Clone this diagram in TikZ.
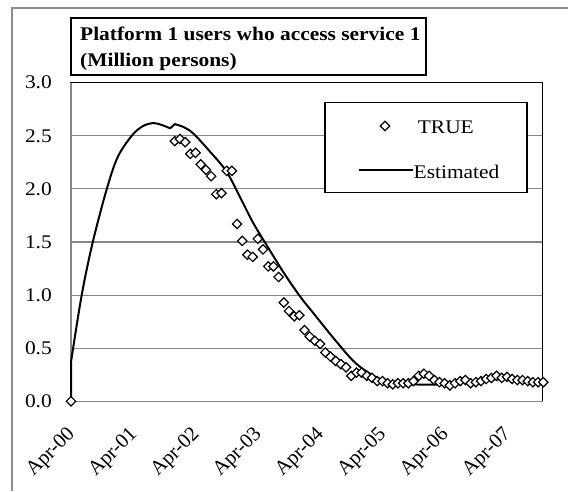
\documentclass[tikz,border=0pt]{standalone}
\usepackage{fontspec}
\setmainfont{Liberation Serif}[FakeStretch=1.11]
\newfontfamily\plainserif{Liberation Serif}
\definecolor{gridgray}{HTML}{868686}
\definecolor{framegray}{HTML}{8C8C8C}
\begin{document}
\begin{tikzpicture}[x=1pt,y=-1pt,
  gridline/.style={draw=gridgray, line width=1.1pt},
  axisline/.style={draw=gridgray, line width=1.5pt},
  boxstyle/.style={draw=black, line width=1.4pt, fill=white, inner sep=0pt},
  txt/.style={font=\fontsize{19.3}{23}\selectfont, inner sep=0pt},
  ttl/.style={font=\fontsize{19.3}{23}\selectfont\bfseries, inner sep=0pt, anchor=base west},
  ylab/.style={txt, anchor=east},
  xlab/.style={font=\plainserif\fontsize{20.6}{24}\selectfont, inner sep=0pt, rotate=45, anchor=base east},
  estline/.style={draw=black, line width=2pt, line join=round},
  diam/.style={draw=black, fill=white, line width=1.2pt, rotate=45, minimum size=6.6pt, inner sep=0pt}
]
\useasboundingbox (0,0) rectangle (568,491);
% outer chart frame (cropped)
\draw[framegray, line width=1.2pt] (12,491) -- (12,8) -- (568,8);
% gridlines
\foreach \v in {0.5,1.0,1.5,2.0,2.5}{
  \pgfmathsetmacro\yy{401.3-106.2*\v}
  \draw[gridline] (71,\yy) -- (542.5,\yy);
}
% plot area frame
\draw[black, line width=1.4pt] (71,82.7) rectangle (542.5,401.3);
\draw[axisline] (71,82.7) -- (71,401.3) -- (542.5,401.3);
% y labels
\foreach \v/\t in {0/0.0,0.5/0.5,1/1.0,1.5/1.5,2/2.0,2.5/2.5,3/3.0}{
  \pgfmathsetmacro\yy{401.3-106.2*\v}
  \node[ylab] (y\v) at (52,\yy) {\t};
}
% x labels
\foreach \k in {0,...,7}{
  \pgfmathsetmacro\xx{71+62.28*\k+4.5}
  \node[xlab] (x\k) at (\xx,435) {Apr-0\k};
}
% data
\begin{scope}[shift={(71,401.3)}, x=5.19pt, y=106.2pt]
\draw[estline] (0,0) -- (0,0.37)
  -- plot[smooth, tension=0.55] coordinates {(0,0.37) (2.06,1.0) (4.2,1.5) (6.9,2.0) (9.0,2.3) (11.7,2.5) (13.8,2.59) (15.9,2.62) (17.6,2.6) (19.1,2.57)}
  -- plot[smooth, tension=0.55] coordinates {(20,2.61) (21.8,2.58) (23.6,2.52) (26.8,2.35) (30,2.16) (32.9,1.89) (35.1,1.68) (37.7,1.47) (41,1.21) (44.1,0.99) (46.7,0.83) (50.5,0.60) (54.4,0.38) (57.6,0.26) (60.8,0.185) (63,0.165) (67,0.158) (72,0.16) (76,0.18) (80,0.2) (84,0.21) (88,0.2) (91,0.18)};
\foreach \m/\v in {
0/0,
20/2.45, 21/2.47, 22/2.44, 23/2.33, 24/2.34, 25/2.23, 26/2.18, 27/2.12, 28/1.95, 29/1.96,
30/2.17, 31/2.17, 32/1.67, 33/1.51, 34/1.38, 35/1.36, 36/1.53, 37/1.43, 38/1.27, 39/1.27,
40/1.17, 41/0.93, 42/0.85, 43/0.80, 44/0.81, 45/0.67, 46/0.61, 47/0.57, 48/0.54, 49/0.46,
50/0.42, 51/0.38, 52/0.35, 53/0.32, 54/0.24, 55/0.27, 56/0.27, 57/0.24, 58/0.22, 59/0.19,
60/0.19, 61/0.17, 62/0.16, 63/0.17, 64/0.17, 65/0.17, 66/0.19, 67/0.24, 68/0.26, 69/0.24,
70/0.20, 71/0.18, 72/0.17, 73/0.15, 74/0.17, 75/0.19, 76/0.20, 77/0.17, 78/0.18, 79/0.19,
80/0.21, 81/0.22, 82/0.24, 83/0.22, 84/0.23, 85/0.21, 86/0.20, 87/0.20, 88/0.19, 89/0.18,
90/0.18, 91/0.18}{
  \node[diam] (d\m) at (\m,\v) {};
}
\end{scope}
% title box
\node[boxstyle, minimum width=355pt, minimum height=57pt] (title) at (248.5,46.5) {};
\node[ttl] (t1) at (80,40.7) {Platform 1 users who access service 1};
\node[ttl] (t2) at (80,66.7) {(Million persons)};
% legend
\node[boxstyle, minimum width=202pt, minimum height=90pt] (legend) at (426,147.7) {};
\node[diam] (ld) at (385,126) {};
\node[txt, anchor=base west] (ltrue) at (417.7,133.3) {TRUE};
\coordinate (la) at (359,170);
\coordinate (lb) at (412.7,170);
\draw[estline] (la) -- (lb);
\node[txt, anchor=base west] (lest) at (413.5,178.3) {Estimated};
\end{tikzpicture}
\end{document}
